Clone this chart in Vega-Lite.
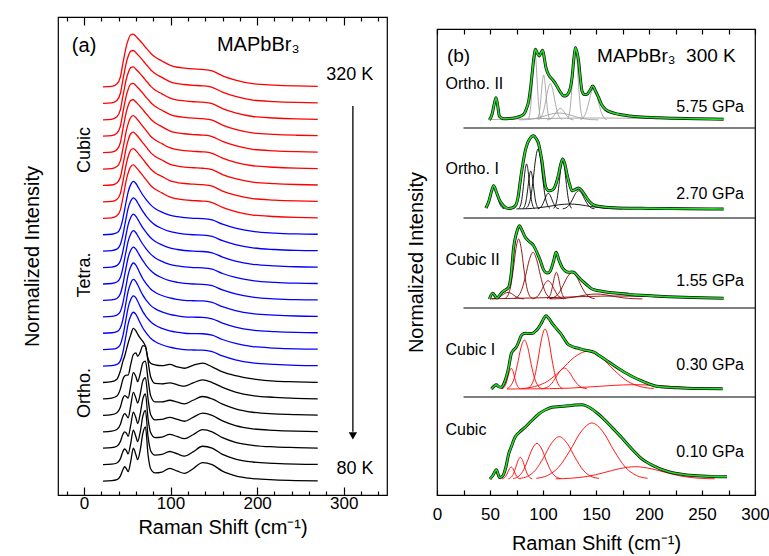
{
"$schema":"https://vega.github.io/schema/vega-lite/v6.json",
"padding":{"left":21,"top":14,"right":5,"bottom":0},
"spacing":17,
"resolve":{"scale":{"color":"independent"}},
"datasets":{
"a":[
{"x":22,"k0":0,"k1":1,"k2":2,"k3":3,"k4":4,"k5":5,"k6":6,"k7":7,"k8":8,"k9":9,"k10":10,"k11":11,"k12":12,"k13":13,"k14":14,"k15":15,"k16":16,"k17":17,"k18":18,"k19":19,"k20":20,"k21":21,"k22":22,"k23":23,"k24":24},
{"x":32,"k0":0.02,"k1":1.03,"k2":2.03,"k3":3.04,"k4":4.04,"k5":5.05,"k6":6.05,"k7":7.03,"k8":8.03,"k9":9.03,"k10":10.03,"k11":11.03,"k12":12.03,"k13":13.03,"k14":14.03,"k15":15.03,"k16":16.03,"k17":17.03,"k18":18.03,"k19":19.03,"k20":20.03,"k21":21.03,"k22":22.03,"k23":23.03,"k24":24.03},
{"x":38,"k0":0.08,"k1":1.1,"k2":2.12,"k3":3.14,"k4":4.16,"k5":5.18,"k6":6.2,"k7":7.1,"k8":8.1,"k9":9.1,"k10":10.1,"k11":11.12,"k12":12.12,"k13":13.12,"k14":14.12,"k15":15.12,"k16":16.15,"k17":17.15,"k18":18.15,"k19":19.15,"k20":20.18,"k21":21.18,"k22":22.18,"k23":23.18,"k24":24.18},
{"x":42,"k0":0.3,"k1":1.35,"k2":2.4,"k3":3.45,"k4":4.5,"k5":5.6,"k6":6.7,"k7":7.32,"k8":8.32,"k9":9.32,"k10":10.32,"k11":11.4,"k12":12.4,"k13":13.4,"k14":14.4,"k15":15.4,"k16":16.5,"k17":17.5,"k18":18.5,"k19":19.5,"k20":20.6,"k21":21.6,"k22":22.6,"k23":23.6,"k24":24.6},
{"x":45,"k0":0.7,"k1":1.8,"k2":2.85,"k3":3.95,"k4":5.05,"k5":6.2,"k6":7.3,"k7":7.85,"k8":8.85,"k9":9.85,"k10":10.85,"k11":12,"k12":13,"k13":14,"k14":15,"k15":16,"k16":17.25,"k17":18.25,"k18":19.25,"k19":20.25,"k20":21.45,"k21":22.45,"k22":23.45,"k23":24.45,"k24":25.45},
{"x":47,"k0":0.87,"k1":1.95,"k2":3.0,"k3":4.1,"k4":5.2,"k5":6.4,"k6":7.6,"k7":8.4,"k8":9.4,"k9":10.4,"k10":11.4,"k11":12.55,"k12":13.55,"k13":14.55,"k14":15.55,"k15":16.55,"k16":17.8,"k17":18.8,"k18":19.8,"k19":20.8,"k20":22,"k21":23,"k22":24,"k23":25,"k24":26},
{"x":49,"k0":0.75,"k1":1.85,"k2":2.92,"k3":4.0,"k4":5.15,"k5":6.45,"k6":8.0,"k7":9,"k8":10,"k9":11,"k10":12,"k11":13.1,"k12":14.1,"k13":15.1,"k14":16.1,"k15":17.1,"k16":18.35,"k17":19.35,"k18":20.35,"k19":21.35,"k20":22.5,"k21":23.5,"k22":24.5,"k23":25.5,"k24":26.5},
{"x":51,"k0":0.57,"k1":1.65,"k2":2.72,"k3":3.85,"k4":5.05,"k5":6.45,"k6":8.4,"k7":9.55,"k8":10.55,"k9":11.55,"k10":12.55,"k11":13.6,"k12":14.6,"k13":15.6,"k14":16.6,"k15":17.6,"k16":18.75,"k17":19.75,"k18":20.75,"k19":21.75,"k20":22.85,"k21":23.85,"k22":24.85,"k23":25.85,"k24":26.85},
{"x":54,"k0":1.2,"k1":2.3,"k2":3.4,"k3":4.6,"k4":5.8,"k5":7.1,"k6":8.9,"k7":10.05,"k8":11.05,"k9":12.05,"k10":13.05,"k11":14.05,"k12":15.05,"k13":16.05,"k14":17.05,"k15":18.05,"k16":19.15,"k17":20.15,"k18":21.15,"k19":22.15,"k20":23.18,"k21":24.18,"k22":25.18,"k23":26.18,"k24":27.18},
{"x":57,"k0":2.0,"k1":3.1,"k2":4.2,"k3":5.4,"k4":6.6,"k5":7.7,"k6":9.3,"k7":10.28,"k8":11.28,"k9":12.28,"k10":13.28,"k11":14.25,"k12":15.25,"k13":16.25,"k14":17.25,"k15":18.25,"k16":19.25,"k17":20.25,"k18":21.25,"k19":22.25,"k20":23.22,"k21":24.22,"k22":25.22,"k23":26.22,"k24":27.22},
{"x":60,"k0":1.6,"k1":2.7,"k2":3.85,"k3":5.05,"k4":6.35,"k5":7.8,"k6":9.15,"k7":10.15,"k8":11.15,"k9":12.15,"k10":13.15,"k11":14.12,"k12":15.12,"k13":16.12,"k14":17.12,"k15":18.12,"k16":19.12,"k17":20.12,"k18":21.12,"k19":22.12,"k20":23.08,"k21":24.08,"k22":25.08,"k23":26.08,"k24":27.08},
{"x":62,"k0":1.3,"k1":2.4,"k2":3.5,"k3":4.75,"k4":6.05,"k5":7.6,"k6":8.95,"k7":9.95,"k8":10.95,"k9":11.95,"k10":12.95,"k11":13.95,"k12":14.95,"k13":15.95,"k14":16.95,"k15":17.95,"k16":19,"k17":20,"k18":21,"k19":22,"k20":22.97,"k21":23.97,"k22":24.97,"k23":25.97,"k24":26.97},
{"x":65,"k0":1.9,"k1":3.0,"k2":4.1,"k3":5.3,"k4":6.55,"k5":7.85,"k6":8.7,"k7":9.62,"k8":10.62,"k9":11.62,"k10":12.62,"k11":13.68,"k12":14.68,"k13":15.68,"k14":16.68,"k15":17.68,"k16":18.8,"k17":19.8,"k18":20.8,"k19":21.8,"k20":22.8,"k21":23.8,"k22":24.8,"k23":25.8,"k24":26.8},
{"x":68,"k0":2.9,"k1":3.95,"k2":5.0,"k3":6.1,"k4":7.2,"k5":8.25,"k6":8.5,"k7":9.32,"k8":10.32,"k9":11.32,"k10":12.32,"k11":13.42,"k12":14.42,"k13":15.42,"k14":16.42,"k15":17.42,"k16":18.6,"k17":19.6,"k18":20.6,"k19":21.6,"k20":22.62,"k21":23.62,"k22":24.62,"k23":25.62,"k24":26.62},
{"x":71,"k0":3.3,"k1":4.3,"k2":5.3,"k3":6.3,"k4":7.3,"k5":8.2,"k6":8.2,"k7":9.08,"k8":10.08,"k9":11.08,"k10":12.08,"k11":13.2,"k12":14.2,"k13":15.2,"k14":16.2,"k15":17.2,"k16":18.4,"k17":19.4,"k18":20.4,"k19":21.4,"k20":22.42,"k21":23.42,"k22":24.42,"k23":25.42,"k24":26.42},
{"x":74,"k0":1.6,"k1":2.7,"k2":3.8,"k3":5.0,"k4":6.2,"k5":7.3,"k6":7.45,"k7":8.88,"k8":9.88,"k9":10.88,"k10":11.88,"k11":13,"k12":14,"k13":15,"k14":16,"k15":17,"k16":18.2,"k17":19.2,"k18":20.2,"k19":21.2,"k20":22.24,"k21":23.24,"k22":24.24,"k23":25.24,"k24":26.24},
{"x":77,"k0":0.75,"k1":1.85,"k2":2.95,"k3":4.05,"k4":5.2,"k5":6.35,"k6":7.18,"k7":8.7,"k8":9.7,"k9":10.7,"k10":11.7,"k11":12.82,"k12":13.82,"k13":14.82,"k14":15.82,"k15":16.82,"k16":18,"k17":19,"k18":20,"k19":21,"k20":22.05,"k21":23.05,"k22":24.05,"k23":25.05,"k24":26.05},
{"x":82,"k0":0.5,"k1":1.58,"k2":2.65,"k3":3.72,"k4":4.82,"k5":5.95,"k6":7.08,"k7":8.5,"k8":9.5,"k9":10.5,"k10":11.5,"k11":12.6,"k12":13.6,"k13":14.6,"k14":15.6,"k15":16.6,"k16":17.78,"k17":18.78,"k18":19.78,"k19":20.78,"k20":21.82,"k21":22.82,"k22":23.82,"k23":24.82,"k24":25.82},
{"x":90,"k0":0.55,"k1":1.62,"k2":2.68,"k3":3.75,"k4":4.82,"k5":5.92,"k6":7.03,"k7":8.3,"k8":9.3,"k9":10.3,"k10":11.3,"k11":12.38,"k12":13.38,"k13":14.38,"k14":15.38,"k15":16.38,"k16":17.55,"k17":18.55,"k18":19.55,"k19":20.55,"k20":21.58,"k21":22.58,"k22":23.58,"k23":24.58,"k24":25.58},
{"x":99,"k0":0.77,"k1":1.8,"k2":2.84,"k3":3.88,"k4":4.92,"k5":5.98,"k6":7.1,"k7":8.15,"k8":9.15,"k9":10.15,"k10":11.15,"k11":12.2,"k12":13.2,"k13":14.2,"k14":15.2,"k15":16.2,"k16":17.3,"k17":18.3,"k18":19.3,"k19":20.3,"k20":21.33,"k21":22.33,"k22":23.33,"k23":24.33,"k24":25.33},
{"x":108,"k0":0.6,"k1":1.65,"k2":2.7,"k3":3.75,"k4":4.8,"k5":5.86,"k6":6.95,"k7":8.06,"k8":9.06,"k9":10.06,"k10":11.06,"k11":12.1,"k12":13.1,"k13":14.1,"k14":15.1,"k15":16.1,"k16":17.18,"k17":18.18,"k18":19.18,"k19":20.18,"k20":21.2,"k21":22.2,"k22":23.2,"k23":24.2,"k24":25.2},
{"x":116,"k0":0.47,"k1":1.52,"k2":2.58,"k3":3.64,"k4":4.7,"k5":5.78,"k6":6.87,"k7":8,"k8":9,"k9":10,"k10":11,"k11":12.04,"k12":13.04,"k13":14.04,"k14":15.04,"k15":16.04,"k16":17.12,"k17":18.12,"k18":19.12,"k19":20.12,"k20":21.15,"k21":22.15,"k22":23.15,"k23":24.15,"k24":25.15},
{"x":126,"k0":0.75,"k1":1.78,"k2":2.82,"k3":3.88,"k4":4.92,"k5":5.98,"k6":7.05,"k7":7.98,"k8":8.98,"k9":9.98,"k10":10.98,"k11":12,"k12":13,"k13":14,"k14":15,"k15":16,"k16":17.08,"k17":18.08,"k18":19.08,"k19":20.08,"k20":21.1,"k21":22.1,"k22":23.1,"k23":24.1,"k24":25.1},
{"x":137,"k0":1.12,"k1":2.12,"k2":3.13,"k3":4.14,"k4":5.15,"k5":6.16,"k6":7.18,"k7":7.97,"k8":8.97,"k9":9.97,"k10":10.97,"k11":11.98,"k12":12.98,"k13":13.98,"k14":14.98,"k15":15.98,"k16":17.05,"k17":18.05,"k18":19.05,"k19":20.05,"k20":21.07,"k21":22.07,"k22":23.07,"k23":24.07,"k24":25.07},
{"x":148,"k0":1.0,"k1":2.0,"k2":3.0,"k3":4.0,"k4":5.0,"k5":6.0,"k6":6.95,"k7":7.88,"k8":8.88,"k9":9.88,"k10":10.88,"k11":11.9,"k12":12.9,"k13":13.9,"k14":14.9,"k15":15.9,"k16":16.96,"k17":17.96,"k18":18.96,"k19":19.96,"k20":20.98,"k21":21.98,"k22":22.98,"k23":23.98,"k24":24.98},
{"x":160,"k0":0.6,"k1":1.62,"k2":2.64,"k3":3.66,"k4":4.68,"k5":5.7,"k6":6.65,"k7":7.62,"k8":8.62,"k9":9.62,"k10":10.62,"k11":11.64,"k12":12.64,"k13":13.64,"k14":14.64,"k15":15.64,"k16":16.66,"k17":17.66,"k18":18.66,"k19":19.66,"k20":20.68,"k21":21.68,"k22":22.68,"k23":23.68,"k24":24.68},
{"x":175,"k0":0.32,"k1":1.34,"k2":2.36,"k3":3.38,"k4":4.4,"k5":5.42,"k6":6.42,"k7":7.38,"k8":8.38,"k9":9.38,"k10":10.38,"k11":11.4,"k12":12.4,"k13":13.4,"k14":14.4,"k15":15.4,"k16":16.41,"k17":17.41,"k18":18.41,"k19":19.41,"k20":20.42,"k21":21.42,"k22":22.42,"k23":23.42,"k24":24.42},
{"x":195,"k0":0.15,"k1":1.16,"k2":2.17,"k3":3.18,"k4":4.19,"k5":5.2,"k6":6.22,"k7":7.19,"k8":8.19,"k9":9.19,"k10":10.19,"k11":11.2,"k12":12.2,"k13":13.2,"k14":14.2,"k15":15.2,"k16":16.2,"k17":17.2,"k18":18.2,"k19":19.2,"k20":20.2,"k21":21.2,"k22":22.2,"k23":23.2,"k24":24.2},
{"x":220,"k0":0.07,"k1":1.08,"k2":2.08,"k3":3.09,"k4":4.09,"k5":5.1,"k6":6.08,"k7":7.1,"k8":8.1,"k9":9.1,"k10":10.1,"k11":11.1,"k12":12.1,"k13":13.1,"k14":14.1,"k15":15.1,"k16":16.11,"k17":17.11,"k18":18.11,"k19":19.11,"k20":20.11,"k21":21.11,"k22":22.11,"k23":23.11,"k24":24.11},
{"x":245,"k0":0.03,"k1":1.03,"k2":2.04,"k3":3.04,"k4":4.04,"k5":5.04,"k6":6.04,"k7":7.05,"k8":8.05,"k9":9.05,"k10":10.05,"k11":11.05,"k12":12.05,"k13":13.05,"k14":14.05,"k15":15.05,"k16":16.06,"k17":17.06,"k18":18.06,"k19":19.06,"k20":20.06,"k21":21.06,"k22":22.06,"k23":23.06,"k24":24.06},
{"x":270,"k0":0.01,"k1":1.01,"k2":2.01,"k3":3.01,"k4":4.01,"k5":5.01,"k6":6.01,"k7":7.03,"k8":8.03,"k9":9.03,"k10":10.03,"k11":11.03,"k12":12.03,"k13":13.03,"k14":14.03,"k15":15.03,"k16":16.03,"k17":17.03,"k18":18.03,"k19":19.03,"k20":20.03,"k21":21.03,"k22":22.03,"k23":23.03,"k24":24.03}
],
"atxt1":[{"t":"(a)","x":-14,"y":26.5},{"t":"MAPbBr₃","x":153.6,"y":26.55}],
"atxt2":[{"t":"320 K","x":307,"y":24.7},{"t":"80 K","x":313,"y":0.75}],
"atxt3":[{"t":"Cubic","x":1.2,"y":20.16},{"t":"Tetra.","x":1.2,"y":12.55},{"t":"Ortho.","x":1.2,"y":5.36}],
"arrow":[{"x":310.6,"y":22.84,"y2":3.0}],
"arrowhead":[{"x":310.6,"y":2.75}],
"sep":[{"x1":25,"x2":300,"y":367},{"x1":25,"x2":300,"y":277},{"x1":25,"x2":300,"y":187},{"x1":25,"x2":300,"y":98}],
"fit":[
{"s":1,"x":50,"y":16},{"s":1,"x":53,"y":20},{"s":1,"x":56,"y":25.3},{"s":1,"x":59,"y":17.5},{"s":1,"x":62,"y":19},{"s":1,"x":65,"y":28},{"s":1,"x":67.6,"y":41},{"s":1,"x":70,"y":48},{"s":1,"x":73.6,"y":57.7},{"s":1,"x":78,"y":63},{"s":1,"x":83,"y":67.7},{"s":1,"x":89,"y":74},{"s":1,"x":96,"y":81},{"s":1,"x":102,"y":85},{"s":1,"x":108.5,"y":87.7},{"s":1,"x":116,"y":88.5},{"s":1,"x":124,"y":89.3},{"s":1,"x":130,"y":90},{"s":1,"x":137,"y":90.3},{"s":1,"x":142,"y":88.5},{"s":1,"x":146,"y":86},{"s":1,"x":151,"y":82},{"s":1,"x":155.7,"y":77.7},{"s":1,"x":162,"y":71},{"s":1,"x":168,"y":64.3},{"s":1,"x":175,"y":56.5},{"s":1,"x":181,"y":49.3},{"s":1,"x":187,"y":42.5},{"s":1,"x":193.4,"y":36},{"s":1,"x":200,"y":31.5},{"s":1,"x":206,"y":28.3},{"s":1,"x":212,"y":25.5},{"s":1,"x":218.6,"y":23.3},{"s":1,"x":226,"y":21.5},{"s":1,"x":234,"y":20.3},{"s":1,"x":242,"y":19.5},{"s":1,"x":250,"y":19},{"s":1,"x":260,"y":18.6},{"s":1,"x":273.6,"y":18.3},
{"s":2,"x":51.3,"y":106},{"s":2,"x":54,"y":109},{"s":2,"x":55.9,"y":110.3},{"s":2,"x":58,"y":108.5},{"s":2,"x":60.6,"y":107.7},{"s":2,"x":63,"y":111},{"s":2,"x":65.3,"y":117.7},{"s":2,"x":67.7,"y":128},{"s":2,"x":70,"y":141},{"s":2,"x":72.3,"y":145},{"s":2,"x":74.7,"y":147.7},{"s":2,"x":77,"y":153},{"s":2,"x":79.4,"y":159.3},{"s":2,"x":82,"y":161.5},{"s":2,"x":84,"y":161.7},{"s":2,"x":87,"y":161.5},{"s":2,"x":90.4,"y":161.7},{"s":2,"x":93,"y":164},{"s":2,"x":95,"y":166},{"s":2,"x":98,"y":171},{"s":2,"x":100.5,"y":176},{"s":2,"x":102.8,"y":179.3},{"s":2,"x":105.5,"y":176.5},{"s":2,"x":109.1,"y":171},{"s":2,"x":113,"y":166},{"s":2,"x":117,"y":161},{"s":2,"x":120,"y":156},{"s":2,"x":123.3,"y":151},{"s":2,"x":126.5,"y":149},{"s":2,"x":129.6,"y":147.7},{"s":2,"x":134,"y":146.5},{"s":2,"x":139,"y":145},{"s":2,"x":144,"y":144},{"s":2,"x":148.4,"y":142.7},{"s":2,"x":153,"y":139.5},{"s":2,"x":157.9,"y":136},{"s":2,"x":162.5,"y":132.7},{"s":2,"x":167.3,"y":129.3},{"s":2,"x":173.5,"y":125},{"s":2,"x":179.9,"y":121},{"s":2,"x":186,"y":117.5},{"s":2,"x":192.5,"y":114.3},{"s":2,"x":199,"y":111.5},{"s":2,"x":205,"y":109.3},{"s":2,"x":211,"y":108.3},{"s":2,"x":217.6,"y":107.7},{"s":2,"x":227,"y":107.2},{"s":2,"x":236.5,"y":106.8},{"s":2,"x":250,"y":106.5},{"s":2,"x":269.5,"y":106.3},
{"s":3,"x":49.4,"y":196},{"s":3,"x":52.5,"y":201.7},{"s":3,"x":56.6,"y":197},{"s":3,"x":59,"y":199.5},{"s":3,"x":61.3,"y":202.7},{"s":3,"x":64.5,"y":205},{"s":3,"x":67.6,"y":207.7},{"s":3,"x":70,"y":221},{"s":3,"x":72.3,"y":247.7},{"s":3,"x":75,"y":262},{"s":3,"x":77.7,"y":269.3},{"s":3,"x":80.5,"y":264},{"s":3,"x":83.3,"y":257.7},{"s":3,"x":87,"y":253.5},{"s":3,"x":91.2,"y":249.3},{"s":3,"x":94.5,"y":242},{"s":3,"x":97.5,"y":234.3},{"s":3,"x":100,"y":226.5},{"s":3,"x":102.2,"y":222.7},{"s":3,"x":104.5,"y":222},{"s":3,"x":107,"y":224.3},{"s":3,"x":110,"y":234},{"s":3,"x":112.3,"y":242.7},{"s":3,"x":115,"y":235},{"s":3,"x":118,"y":227.7},{"s":3,"x":121,"y":224},{"s":3,"x":124.2,"y":222.7},{"s":3,"x":127,"y":223},{"s":3,"x":129,"y":222.7},{"s":3,"x":133,"y":218.5},{"s":3,"x":136.8,"y":214.3},{"s":3,"x":141.5,"y":210},{"s":3,"x":146.3,"y":206},{"s":3,"x":151,"y":204.5},{"s":3,"x":155.7,"y":203.7},{"s":3,"x":163,"y":202.5},{"s":3,"x":171.4,"y":201.7},{"s":3,"x":182,"y":200.6},{"s":3,"x":193.4,"y":199.7},{"s":3,"x":205,"y":199},{"s":3,"x":218.6,"y":198.3},{"s":3,"x":240,"y":197.5},{"s":3,"x":270.4,"y":196.7},
{"s":4,"x":46.2,"y":287},{"s":4,"x":49,"y":294},{"s":4,"x":51,"y":302},{"s":4,"x":53.4,"y":309.3},{"s":4,"x":56,"y":303},{"s":4,"x":58.5,"y":296},{"s":4,"x":61.3,"y":291},{"s":4,"x":64,"y":288},{"s":4,"x":67.6,"y":286.5},{"s":4,"x":70.5,"y":287},{"s":4,"x":73.9,"y":289.3},{"s":4,"x":76.5,"y":298},{"s":4,"x":78.6,"y":314.3},{"s":4,"x":81,"y":331},{"s":4,"x":83.3,"y":344.3},{"s":4,"x":85.5,"y":352},{"s":4,"x":87.4,"y":356},{"s":4,"x":89.3,"y":358.5},{"s":4,"x":91.2,"y":359.3},{"s":4,"x":93.5,"y":356.5},{"s":4,"x":95.9,"y":351},{"s":4,"x":97.5,"y":343},{"s":4,"x":99,"y":334.3},{"s":4,"x":100.6,"y":321},{"s":4,"x":102.2,"y":309.3},{"s":4,"x":103.8,"y":305.5},{"s":4,"x":105.3,"y":304.3},{"s":4,"x":107.5,"y":304.5},{"s":4,"x":110,"y":306},{"s":4,"x":112.5,"y":312},{"s":4,"x":114.8,"y":321},{"s":4,"x":116.8,"y":331},{"s":4,"x":118.6,"y":336},{"s":4,"x":120.6,"y":331},{"s":4,"x":122.6,"y":321},{"s":4,"x":125,"y":311},{"s":4,"x":127.4,"y":304.3},{"s":4,"x":130.5,"y":305.5},{"s":4,"x":133.6,"y":307},{"s":4,"x":136.8,"y":304},{"s":4,"x":139.9,"y":299.3},{"s":4,"x":143,"y":294.5},{"s":4,"x":146.2,"y":291},{"s":4,"x":150,"y":289.3},{"s":4,"x":155.7,"y":288.3},{"s":4,"x":163,"y":287.5},{"s":4,"x":171.4,"y":287},{"s":4,"x":200,"y":286.6},{"s":4,"x":235,"y":286.3},{"s":4,"x":270.4,"y":286},
{"s":5,"x":49.4,"y":375},{"s":5,"x":52,"y":381},{"s":5,"x":54,"y":391},{"s":5,"x":55.7,"y":397.3},{"s":5,"x":57.3,"y":389},{"s":5,"x":58.8,"y":379},{"s":5,"x":60.8,"y":377},{"s":5,"x":62.9,"y":376.3},{"s":5,"x":68,"y":376.5},{"s":5,"x":73.9,"y":377.3},{"s":5,"x":78,"y":378.5},{"s":5,"x":81.8,"y":380.7},{"s":5,"x":84.3,"y":386},{"s":5,"x":86.5,"y":394},{"s":5,"x":88.5,"y":409},{"s":5,"x":90.3,"y":427},{"s":5,"x":91.6,"y":439},{"s":5,"x":92.8,"y":445.7},{"s":5,"x":94.5,"y":442},{"s":5,"x":96.5,"y":439},{"s":5,"x":98.2,"y":442.5},{"s":5,"x":99.7,"y":444.7},{"s":5,"x":101.2,"y":437},{"s":5,"x":102.8,"y":427.3},{"s":5,"x":104.5,"y":422},{"s":5,"x":106,"y":419},{"s":5,"x":108,"y":416.5},{"s":5,"x":110,"y":414},{"s":5,"x":112.5,"y":410},{"s":5,"x":114.8,"y":405.7},{"s":5,"x":117,"y":402},{"s":5,"x":119.5,"y":399},{"s":5,"x":122,"y":399.5},{"s":5,"x":124.2,"y":402.3},{"s":5,"x":126,"y":408},{"s":5,"x":127.4,"y":417.3},{"s":5,"x":129,"y":435},{"s":5,"x":130.5,"y":447.3},{"s":5,"x":132,"y":443},{"s":5,"x":133.6,"y":434},{"s":5,"x":135.2,"y":417},{"s":5,"x":136.8,"y":404},{"s":5,"x":139,"y":400.5},{"s":5,"x":141.5,"y":400.7},{"s":5,"x":144.5,"y":405},{"s":5,"x":146.9,"y":409},{"s":5,"x":149.5,"y":404},{"s":5,"x":152.5,"y":397.3},{"s":5,"x":155.5,"y":390},{"s":5,"x":158.8,"y":385.7},{"s":5,"x":165,"y":382.5},{"s":5,"x":171.4,"y":380.7},{"s":5,"x":182,"y":379},{"s":5,"x":193.4,"y":378},{"s":5,"x":210,"y":377.2},{"s":5,"x":224.9,"y":376.7},{"s":5,"x":245,"y":376.2},{"s":5,"x":270.4,"y":375.7}
],
"comp":[
{"i":"1A","s":1,"x":50,"y":16.1},{"i":"1A","s":1,"x":51,"y":16.5},{"i":"1A","s":1,"x":52,"y":17.7},{"i":"1A","s":1,"x":53,"y":20},{"i":"1A","s":1,"x":54,"y":22.7},{"i":"1A","s":1,"x":55,"y":24},{"i":"1A","s":1,"x":56,"y":22.7},{"i":"1A","s":1,"x":57,"y":20},{"i":"1A","s":1,"x":58,"y":17.7},{"i":"1A","s":1,"x":59,"y":16.5},{"i":"1A","s":1,"x":60,"y":16.1},
{"i":"1B","s":1,"x":61.3,"y":16.2},{"i":"1B","s":1,"x":63,"y":16.8},{"i":"1B","s":1,"x":64.8,"y":18.5},{"i":"1B","s":1,"x":66.5,"y":22},{"i":"1B","s":1,"x":68.3,"y":26.1},{"i":"1B","s":1,"x":70,"y":28},{"i":"1B","s":1,"x":71.8,"y":26.1},{"i":"1B","s":1,"x":73.5,"y":22},{"i":"1B","s":1,"x":75.3,"y":18.5},{"i":"1B","s":1,"x":77,"y":16.8},{"i":"1B","s":1,"x":78.8,"y":16.2},
{"i":"1C","s":1,"x":67.4,"y":16.3},{"i":"1C","s":1,"x":69.6,"y":17.4},{"i":"1C","s":1,"x":71.9,"y":20.6},{"i":"1C","s":1,"x":74.1,"y":26.9},{"i":"1C","s":1,"x":76.4,"y":34.2},{"i":"1C","s":1,"x":78.6,"y":37.7},{"i":"1C","s":1,"x":80.9,"y":34.2},{"i":"1C","s":1,"x":83.1,"y":26.9},{"i":"1C","s":1,"x":85.4,"y":20.6},{"i":"1C","s":1,"x":87.6,"y":17.4},{"i":"1C","s":1,"x":89.9,"y":16.3},
{"i":"1D","s":1,"x":71.8,"y":16.5},{"i":"1D","s":1,"x":76.3,"y":18.2},{"i":"1D","s":1,"x":80.8,"y":23.5},{"i":"1D","s":1,"x":85.3,"y":33.9},{"i":"1D","s":1,"x":89.8,"y":46},{"i":"1D","s":1,"x":94.3,"y":51.7},{"i":"1D","s":1,"x":98.8,"y":46},{"i":"1D","s":1,"x":103.3,"y":33.9},{"i":"1D","s":1,"x":107.8,"y":23.5},{"i":"1D","s":1,"x":112.3,"y":18.2},{"i":"1D","s":1,"x":116.8,"y":16.5},
{"i":"1E","s":1,"x":77.9,"y":16.6},{"i":"1E","s":1,"x":85.4,"y":18.6},{"i":"1E","s":1,"x":92.9,"y":24.9},{"i":"1E","s":1,"x":100.4,"y":37.2},{"i":"1E","s":1,"x":107.9,"y":51.5},{"i":"1E","s":1,"x":115.4,"y":58.3},{"i":"1E","s":1,"x":122.9,"y":51.5},{"i":"1E","s":1,"x":130.4,"y":37.2},{"i":"1E","s":1,"x":137.9,"y":24.9},{"i":"1E","s":1,"x":145.4,"y":18.6},{"i":"1E","s":1,"x":152.9,"y":16.6},
{"i":"1F","s":1,"x":93.7,"y":16.7},{"i":"1F","s":1,"x":104.2,"y":19.5},{"i":"1F","s":1,"x":114.7,"y":27.8},{"i":"1F","s":1,"x":125.2,"y":44},{"i":"1F","s":1,"x":135.7,"y":63},{"i":"1F","s":1,"x":146.2,"y":72},{"i":"1F","s":1,"x":156.7,"y":63},{"i":"1F","s":1,"x":167.2,"y":44},{"i":"1F","s":1,"x":177.7,"y":27.8},{"i":"1F","s":1,"x":188.2,"y":19.5},{"i":"1F","s":1,"x":198.7,"y":16.7},
{"i":"1G","s":1,"x":112,"y":16.2},{"i":"1G","s":1,"x":127,"y":16.8},{"i":"1G","s":1,"x":142,"y":18.6},{"i":"1G","s":1,"x":157,"y":22.2},{"i":"1G","s":1,"x":172,"y":26.3},{"i":"1G","s":1,"x":187,"y":28.3},{"i":"1G","s":1,"x":202,"y":26.3},{"i":"1G","s":1,"x":217,"y":22.2},{"i":"1G","s":1,"x":232,"y":18.6},{"i":"1G","s":1,"x":247,"y":16.8},{"i":"1G","s":1,"x":262,"y":16.2},
{"i":"2A","s":2,"x":61.3,"y":106.3},{"i":"2A","s":2,"x":63,"y":107.3},{"i":"2A","s":2,"x":64.8,"y":110.3},{"i":"2A","s":2,"x":66.5,"y":116.4},{"i":"2A","s":2,"x":68.3,"y":123.4},{"i":"2A","s":2,"x":70,"y":126.7},{"i":"2A","s":2,"x":71.8,"y":123.4},{"i":"2A","s":2,"x":73.5,"y":116.4},{"i":"2A","s":2,"x":75.3,"y":110.3},{"i":"2A","s":2,"x":77,"y":107.3},{"i":"2A","s":2,"x":78.8,"y":106.3},
{"i":"2B","s":2,"x":66.2,"y":106.6},{"i":"2B","s":2,"x":69.4,"y":109.1},{"i":"2B","s":2,"x":72.7,"y":116.3},{"i":"2B","s":2,"x":75.9,"y":130.5},{"i":"2B","s":2,"x":79.2,"y":147.2},{"i":"2B","s":2,"x":82.4,"y":155},{"i":"2B","s":2,"x":85.7,"y":147.2},{"i":"2B","s":2,"x":88.9,"y":130.5},{"i":"2B","s":2,"x":92.2,"y":116.3},{"i":"2B","s":2,"x":95.4,"y":109.1},{"i":"2B","s":2,"x":98.7,"y":106.6},
{"i":"2C","s":2,"x":85.7,"y":106.8},{"i":"2C","s":2,"x":88.9,"y":109.8},{"i":"2C","s":2,"x":92.2,"y":118.6},{"i":"2C","s":2,"x":95.4,"y":136},{"i":"2C","s":2,"x":98.7,"y":156.4},{"i":"2C","s":2,"x":101.9,"y":166},{"i":"2C","s":2,"x":105.2,"y":156.4},{"i":"2C","s":2,"x":108.4,"y":136},{"i":"2C","s":2,"x":111.7,"y":118.6},{"i":"2C","s":2,"x":114.9,"y":109.8},{"i":"2C","s":2,"x":118.2,"y":106.8},
{"i":"2D","s":2,"x":98.8,"y":106.3},{"i":"2D","s":2,"x":103,"y":107.3},{"i":"2D","s":2,"x":107.3,"y":110.4},{"i":"2D","s":2,"x":111.5,"y":116.5},{"i":"2D","s":2,"x":115.8,"y":123.6},{"i":"2D","s":2,"x":120,"y":127},{"i":"2D","s":2,"x":124.3,"y":123.6},{"i":"2D","s":2,"x":128.5,"y":116.5},{"i":"2D","s":2,"x":132.8,"y":110.4},{"i":"2D","s":2,"x":137,"y":107.3},{"i":"2D","s":2,"x":141.3,"y":106.3},
{"i":"2E","s":2,"x":79.5,"y":106.5},{"i":"2E","s":2,"x":92,"y":108.4},{"i":"2E","s":2,"x":104.5,"y":113.9},{"i":"2E","s":2,"x":117,"y":124.9},{"i":"2E","s":2,"x":129.5,"y":137.7},{"i":"2E","s":2,"x":142,"y":143.7},{"i":"2E","s":2,"x":154.5,"y":137.7},{"i":"2E","s":2,"x":167,"y":124.9},{"i":"2E","s":2,"x":179.5,"y":113.9},{"i":"2E","s":2,"x":192,"y":108.4},{"i":"2E","s":2,"x":204.5,"y":106.5},
{"i":"2F","s":2,"x":66,"y":106},{"i":"2F","s":2,"x":86,"y":106.1},{"i":"2F","s":2,"x":106,"y":106.3},{"i":"2F","s":2,"x":126,"y":106.9},{"i":"2F","s":2,"x":146,"y":108.2},{"i":"2F","s":2,"x":166,"y":109.6},{"i":"2F","s":2,"x":186,"y":110.3},{"i":"2F","s":2,"x":206,"y":109.6},{"i":"2F","s":2,"x":226,"y":108.2},{"i":"2F","s":2,"x":237,"y":107.4},
{"i":"3A","s":3,"x":52,"y":196.1},{"i":"3A","s":3,"x":55,"y":196.4},{"i":"3A","s":3,"x":58,"y":197.4},{"i":"3A","s":3,"x":61,"y":199.4},{"i":"3A","s":3,"x":64,"y":201.6},{"i":"3A","s":3,"x":67,"y":202.7},{"i":"3A","s":3,"x":70,"y":201.6},{"i":"3A","s":3,"x":73,"y":199.4},{"i":"3A","s":3,"x":76,"y":197.4},{"i":"3A","s":3,"x":79,"y":196.4},{"i":"3A","s":3,"x":82,"y":196.1},
{"i":"3B","s":3,"x":64.5,"y":196.8},{"i":"3B","s":3,"x":67,"y":199.8},{"i":"3B","s":3,"x":69.5,"y":208.6},{"i":"3B","s":3,"x":72,"y":226},{"i":"3B","s":3,"x":74.5,"y":246.4},{"i":"3B","s":3,"x":77,"y":256},{"i":"3B","s":3,"x":79.5,"y":246.4},{"i":"3B","s":3,"x":82,"y":226},{"i":"3B","s":3,"x":84.5,"y":208.6},{"i":"3B","s":3,"x":87,"y":199.8},{"i":"3B","s":3,"x":89.5,"y":196.8},
{"i":"3C","s":3,"x":73.1,"y":196.6},{"i":"3C","s":3,"x":76.6,"y":198.9},{"i":"3C","s":3,"x":80.1,"y":205.8},{"i":"3C","s":3,"x":83.6,"y":219.4},{"i":"3C","s":3,"x":87.1,"y":235.2},{"i":"3C","s":3,"x":90.6,"y":242.7},{"i":"3C","s":3,"x":94.1,"y":235.2},{"i":"3C","s":3,"x":97.6,"y":219.4},{"i":"3C","s":3,"x":101.1,"y":205.8},{"i":"3C","s":3,"x":104.6,"y":198.9},{"i":"3C","s":3,"x":108.1,"y":196.6},
{"i":"3D","s":3,"x":89.8,"y":196.2},{"i":"3D","s":3,"x":92.8,"y":197.1},{"i":"3D","s":3,"x":95.8,"y":199.8},{"i":"3D","s":3,"x":98.8,"y":205.2},{"i":"3D","s":3,"x":101.8,"y":211.4},{"i":"3D","s":3,"x":104.8,"y":214.3},{"i":"3D","s":3,"x":107.8,"y":211.4},{"i":"3D","s":3,"x":110.8,"y":205.2},{"i":"3D","s":3,"x":113.8,"y":199.8},{"i":"3D","s":3,"x":116.8,"y":197.1},{"i":"3D","s":3,"x":119.8,"y":196.2},
{"i":"3E","s":3,"x":103.9,"y":196.4},{"i":"3E","s":3,"x":105.6,"y":197.7},{"i":"3E","s":3,"x":107.4,"y":201.6},{"i":"3E","s":3,"x":109.1,"y":209.4},{"i":"3E","s":3,"x":110.9,"y":218.4},{"i":"3E","s":3,"x":112.6,"y":222.7},{"i":"3E","s":3,"x":114.4,"y":218.4},{"i":"3E","s":3,"x":116.1,"y":209.4},{"i":"3E","s":3,"x":117.9,"y":201.6},{"i":"3E","s":3,"x":119.6,"y":197.7},{"i":"3E","s":3,"x":121.4,"y":196.4},
{"i":"3F","s":3,"x":106.2,"y":196.4},{"i":"3F","s":3,"x":110.4,"y":197.7},{"i":"3F","s":3,"x":114.7,"y":201.6},{"i":"3F","s":3,"x":118.9,"y":209.4},{"i":"3F","s":3,"x":123.2,"y":218.4},{"i":"3F","s":3,"x":127.4,"y":222.7},{"i":"3F","s":3,"x":131.7,"y":218.4},{"i":"3F","s":3,"x":135.9,"y":209.4},{"i":"3F","s":3,"x":140.2,"y":201.6},{"i":"3F","s":3,"x":144.4,"y":197.7},{"i":"3F","s":3,"x":148.7,"y":196.4},
{"i":"3G","s":3,"x":106.3,"y":196.1},{"i":"3G","s":3,"x":115,"y":196.3},{"i":"3G","s":3,"x":123.8,"y":197.1},{"i":"3G","s":3,"x":132.5,"y":198.5},{"i":"3G","s":3,"x":141.3,"y":200.2},{"i":"3G","s":3,"x":150,"y":201},{"i":"3G","s":3,"x":158.8,"y":200.2},{"i":"3G","s":3,"x":167.5,"y":198.5},{"i":"3G","s":3,"x":176.3,"y":197.1},{"i":"3G","s":3,"x":185,"y":196.3},{"i":"3G","s":3,"x":193.8,"y":196.1},
{"i":"3H","s":3,"x":50,"y":196.2},{"i":"3H","s":3,"x":80,"y":196.8},{"i":"3H","s":3,"x":110,"y":197.5},{"i":"3H","s":3,"x":140,"y":198.5},{"i":"3H","s":3,"x":170,"y":199},{"i":"3H","s":3,"x":200,"y":198.5},{"i":"3H","s":3,"x":230,"y":197.5},{"i":"3H","s":3,"x":270,"y":196.5},
{"i":"4A","s":4,"x":45.4,"y":287.4},{"i":"4A","s":4,"x":47.4,"y":290.6},{"i":"4A","s":4,"x":49.4,"y":296.9},{"i":"4A","s":4,"x":51.4,"y":304.2},{"i":"4A","s":4,"x":53.4,"y":307.7},{"i":"4A","s":4,"x":55.4,"y":304.2},{"i":"4A","s":4,"x":57.4,"y":296.9},{"i":"4A","s":4,"x":59.4,"y":290.6},{"i":"4A","s":4,"x":61.4,"y":287.4},{"i":"4A","s":4,"x":63.4,"y":286.3},
{"i":"4B","s":4,"x":77,"y":286.6},{"i":"4B","s":4,"x":78.5,"y":288.8},{"i":"4B","s":4,"x":80,"y":295.5},{"i":"4B","s":4,"x":81.5,"y":308.5},{"i":"4B","s":4,"x":83,"y":323.8},{"i":"4B","s":4,"x":84.5,"y":331},{"i":"4B","s":4,"x":86,"y":323.8},{"i":"4B","s":4,"x":87.5,"y":308.5},{"i":"4B","s":4,"x":89,"y":295.5},{"i":"4B","s":4,"x":90.5,"y":288.8},{"i":"4B","s":4,"x":92,"y":286.6},
{"i":"4C","s":4,"x":81,"y":286.5},{"i":"4C","s":4,"x":82.5,"y":288.4},{"i":"4C","s":4,"x":84,"y":294},{"i":"4C","s":4,"x":85.5,"y":305},{"i":"4C","s":4,"x":87,"y":317.9},{"i":"4C","s":4,"x":88.5,"y":324},{"i":"4C","s":4,"x":90,"y":317.9},{"i":"4C","s":4,"x":91.5,"y":305},{"i":"4C","s":4,"x":93,"y":294},{"i":"4C","s":4,"x":94.5,"y":288.4},{"i":"4C","s":4,"x":96,"y":286.5},
{"i":"4D","s":4,"x":84.05,"y":286.8},{"i":"4D","s":4,"x":86.3,"y":289.8},{"i":"4D","s":4,"x":88.55,"y":298.6},{"i":"4D","s":4,"x":90.8,"y":316},{"i":"4D","s":4,"x":93.05,"y":336.4},{"i":"4D","s":4,"x":95.3,"y":346},{"i":"4D","s":4,"x":97.55,"y":336.4},{"i":"4D","s":4,"x":99.8,"y":316},{"i":"4D","s":4,"x":102.05,"y":298.6},{"i":"4D","s":4,"x":104.3,"y":289.8},{"i":"4D","s":4,"x":106.55,"y":286.8},
{"i":"4E","s":4,"x":95,"y":286.2},{"i":"4E","s":4,"x":97,"y":287},{"i":"4E","s":4,"x":99,"y":289.3},{"i":"4E","s":4,"x":101,"y":293.9},{"i":"4E","s":4,"x":103,"y":299.2},{"i":"4E","s":4,"x":105,"y":301.7},{"i":"4E","s":4,"x":107,"y":299.2},{"i":"4E","s":4,"x":109,"y":293.9},{"i":"4E","s":4,"x":111,"y":289.3},{"i":"4E","s":4,"x":113,"y":287},{"i":"4E","s":4,"x":115,"y":286.2},
{"i":"4F","s":4,"x":109.85,"y":286.6},{"i":"4F","s":4,"x":111.6,"y":289.1},{"i":"4F","s":4,"x":113.35,"y":296.3},{"i":"4F","s":4,"x":115.1,"y":310.5},{"i":"4F","s":4,"x":116.85,"y":327.2},{"i":"4F","s":4,"x":118.6,"y":335},{"i":"4F","s":4,"x":120.35,"y":327.2},{"i":"4F","s":4,"x":122.1,"y":310.5},{"i":"4F","s":4,"x":123.85,"y":296.3},{"i":"4F","s":4,"x":125.6,"y":289.1},{"i":"4F","s":4,"x":127.35,"y":286.6},
{"i":"4G","s":4,"x":118.6,"y":286.2},{"i":"4G","s":4,"x":121.6,"y":287.1},{"i":"4G","s":4,"x":124.6,"y":289.8},{"i":"4G","s":4,"x":127.6,"y":295.2},{"i":"4G","s":4,"x":130.6,"y":301.4},{"i":"4G","s":4,"x":133.6,"y":304.3},{"i":"4G","s":4,"x":136.6,"y":301.4},{"i":"4G","s":4,"x":139.6,"y":295.2},{"i":"4G","s":4,"x":142.6,"y":289.8},{"i":"4G","s":4,"x":145.6,"y":287.1},{"i":"4G","s":4,"x":148.6,"y":286.2},
{"i":"4H","s":4,"x":75,"y":286.1},{"i":"4H","s":4,"x":85,"y":286.3},{"i":"4H","s":4,"x":95,"y":287.1},{"i":"4H","s":4,"x":105,"y":288.5},{"i":"4H","s":4,"x":115,"y":290.2},{"i":"4H","s":4,"x":125,"y":291},{"i":"4H","s":4,"x":135,"y":290.2},{"i":"4H","s":4,"x":145,"y":288.5},{"i":"4H","s":4,"x":155,"y":287.1},{"i":"4H","s":4,"x":165,"y":286.3},{"i":"4H","s":4,"x":175,"y":286.1},
{"i":"5A","s":5,"x":49.45,"y":375.3},{"i":"5A","s":5,"x":50.7,"y":376.3},{"i":"5A","s":5,"x":51.95,"y":379.3},{"i":"5A","s":5,"x":53.2,"y":385.4},{"i":"5A","s":5,"x":54.45,"y":392.4},{"i":"5A","s":5,"x":55.7,"y":395.7},{"i":"5A","s":5,"x":56.95,"y":392.4},{"i":"5A","s":5,"x":58.2,"y":385.4},{"i":"5A","s":5,"x":59.45,"y":379.3},{"i":"5A","s":5,"x":60.7,"y":376.3},{"i":"5A","s":5,"x":61.95,"y":375.3},
{"i":"5B","s":5,"x":85.95,"y":375.9},{"i":"5B","s":5,"x":87.2,"y":379.3},{"i":"5B","s":5,"x":88.45,"y":389.5},{"i":"5B","s":5,"x":89.7,"y":409.5},{"i":"5B","s":5,"x":90.95,"y":433},{"i":"5B","s":5,"x":92.2,"y":444},{"i":"5B","s":5,"x":93.45,"y":433},{"i":"5B","s":5,"x":94.7,"y":409.5},{"i":"5B","s":5,"x":95.95,"y":389.5},{"i":"5B","s":5,"x":97.2,"y":379.3},{"i":"5B","s":5,"x":98.45,"y":375.9},
{"i":"5C","s":5,"x":94.35,"y":375.6},{"i":"5C","s":5,"x":95.6,"y":377.8},{"i":"5C","s":5,"x":96.85,"y":384.5},{"i":"5C","s":5,"x":98.1,"y":397.5},{"i":"5C","s":5,"x":99.35,"y":412.8},{"i":"5C","s":5,"x":100.6,"y":420},{"i":"5C","s":5,"x":101.85,"y":412.8},{"i":"5C","s":5,"x":103.1,"y":397.5},{"i":"5C","s":5,"x":104.35,"y":384.5},{"i":"5C","s":5,"x":105.6,"y":377.8},{"i":"5C","s":5,"x":106.85,"y":375.6},
{"i":"5D","s":5,"x":95.65,"y":375.5},{"i":"5D","s":5,"x":97.9,"y":377.3},{"i":"5D","s":5,"x":100.15,"y":382.6},{"i":"5D","s":5,"x":102.4,"y":393.2},{"i":"5D","s":5,"x":104.65,"y":405.5},{"i":"5D","s":5,"x":106.9,"y":411.3},{"i":"5D","s":5,"x":109.15,"y":405.5},{"i":"5D","s":5,"x":111.4,"y":393.2},{"i":"5D","s":5,"x":113.65,"y":382.6},{"i":"5D","s":5,"x":115.9,"y":377.3},{"i":"5D","s":5,"x":118.15,"y":375.5},
{"i":"5E","s":5,"x":103.8,"y":375.2},{"i":"5E","s":5,"x":106.3,"y":375.7},{"i":"5E","s":5,"x":108.8,"y":377.5},{"i":"5E","s":5,"x":111.3,"y":380.9},{"i":"5E","s":5,"x":113.8,"y":384.8},{"i":"5E","s":5,"x":116.3,"y":386.7},{"i":"5E","s":5,"x":118.8,"y":384.8},{"i":"5E","s":5,"x":121.3,"y":380.9},{"i":"5E","s":5,"x":123.8,"y":377.5},{"i":"5E","s":5,"x":126.3,"y":375.7},{"i":"5E","s":5,"x":128.8,"y":375.2},
{"i":"5F","s":5,"x":123,"y":375.9},{"i":"5F","s":5,"x":124.5,"y":379.5},{"i":"5F","s":5,"x":126,"y":390.2},{"i":"5F","s":5,"x":127.5,"y":411.2},{"i":"5F","s":5,"x":129,"y":435.7},{"i":"5F","s":5,"x":130.5,"y":447.3},{"i":"5F","s":5,"x":132,"y":435.7},{"i":"5F","s":5,"x":133.5,"y":411.2},{"i":"5F","s":5,"x":135,"y":390.2},{"i":"5F","s":5,"x":136.5,"y":379.5},{"i":"5F","s":5,"x":138,"y":375.9},
{"i":"5G","s":5,"x":135.3,"y":375.4},{"i":"5G","s":5,"x":137.8,"y":377},{"i":"5G","s":5,"x":140.3,"y":381.7},{"i":"5G","s":5,"x":142.8,"y":390.9},{"i":"5G","s":5,"x":145.3,"y":401.6},{"i":"5G","s":5,"x":147.8,"y":406.7},{"i":"5G","s":5,"x":150.3,"y":401.6},{"i":"5G","s":5,"x":152.8,"y":390.9},{"i":"5G","s":5,"x":155.3,"y":381.7},{"i":"5G","s":5,"x":157.8,"y":377},{"i":"5G","s":5,"x":160.3,"y":375.4},
{"i":"5H","s":5,"x":77.5,"y":375.1},{"i":"5H","s":5,"x":85,"y":375.4},{"i":"5H","s":5,"x":92.5,"y":376.5},{"i":"5H","s":5,"x":100,"y":378.5},{"i":"5H","s":5,"x":107.5,"y":380.9},{"i":"5H","s":5,"x":115,"y":382},{"i":"5H","s":5,"x":122.5,"y":380.9},{"i":"5H","s":5,"x":130,"y":378.5},{"i":"5H","s":5,"x":137.5,"y":376.5},{"i":"5H","s":5,"x":145,"y":375.4},{"i":"5H","s":5,"x":152.5,"y":375.1},
{"i":"5I","s":5,"x":50,"y":375.5},{"i":"5I","s":5,"x":100,"y":376.5},{"i":"5I","s":5,"x":150,"y":377},{"i":"5I","s":5,"x":200,"y":376.5},{"i":"5I","s":5,"x":250,"y":375.8},{"i":"5I","s":5,"x":270,"y":375.5}
],
"btxt1":[{"t":"(b)","x":9.4,"y":439},{"t":"MAPbBr₃\u00a0\u00a0300 K","x":151,"y":439}],
"btxt2":[{"t":"Ortho. II","x":8,"y":411.5},{"t":"Ortho. I","x":8,"y":326.5},{"t":"Cubic II","x":8,"y":235},{"t":"Cubic I","x":8,"y":145},{"t":"Cubic","x":8,"y":65}],
"btxt3":[{"t":"5.75 GPa","x":289.6,"y":388},{"t":"2.70 GPa","x":289.6,"y":301.5},{"t":"1.55 GPa","x":289.6,"y":214},{"t":"0.30 GPa","x":289.6,"y":130},{"t":"0.10 GPa","x":289.6,"y":43}],
"spacer":[{"v":0}]
},
"hconcat":[
{
"width":329,"height":478,
"layer":[
{"data":{"name":"a"},
 "transform":[{"fold":["k0","k1","k2","k3","k4","k5","k6","k7","k8","k9","k10","k11","k12","k13","k14","k15","k16","k17","k18","k19","k20","k21","k22","k23","k24"],"as":["curve","y"]}],
 "mark":{"type":"line","interpolate":"monotone","strokeWidth":1.3},
 "encoding":{
  "x":{"field":"x","type":"quantitative","scale":{"domain":[-30,350],"nice":false,"zero":false},
       "axis":{"orient":"bottom","values":[0,100,200,300],"tickSize":-8,"labelPadding":8,"labelFlush":false,"title":"Raman Shift (cm⁻¹)","titlePadding":6}},
  "y":{"field":"y","type":"quantitative","scale":{"domain":[-0.85,28.26],"nice":false,"zero":false},
       "axis":{"title":"Normalized Intensity","labels":false,"ticks":false,"minExtent":0,"titlePadding":16}},
  "color":{"field":"curve","type":"nominal","legend":null,
   "scale":{"domain":["k0","k1","k2","k3","k4","k5","k6","k7","k8","k9","k10","k11","k12","k13","k14","k15","k16","k17","k18","k19","k20","k21","k22","k23","k24"],
            "range":["#000000","#000000","#000000","#000000","#000000","#000000","#000000","#0000ff","#0000ff","#0000ff","#0000ff","#0000ff","#0000ff","#0000ff","#0000ff","#0000ff","#ff0000","#ff0000","#ff0000","#ff0000","#ff0000","#ff0000","#ff0000","#ff0000","#ff0000"]}}
 }},
{"data":{"name":"atxt1"},
 "mark":{"type":"text","align":"left","baseline":"middle","fontSize":20},
 "encoding":{
  "x":{"field":"x","type":"quantitative","scale":{"domain":[-30,350],"nice":false,"zero":false},
       "axis":{"orient":"bottom","values":[-20,20,40,60,80,120,140,160,180,220,240,260,280,320,340],"tickSize":-4,"labels":false,"title":null}},
  "y":{"field":"y","type":"quantitative","scale":{"domain":[-0.85,28.26],"nice":false,"zero":false},"axis":null},
  "text":{"field":"t"}}},
{"data":{"name":"atxt2"},
 "mark":{"type":"text","align":"center","baseline":"middle","fontSize":18},
 "encoding":{
  "x":{"field":"x","type":"quantitative","scale":{"domain":[-30,350],"nice":false,"zero":false},
       "axis":{"orient":"top","values":[0,100,200,300],"tickSize":-8,"labels":false,"title":null}},
  "y":{"field":"y","type":"quantitative","scale":{"domain":[-0.85,28.26],"nice":false,"zero":false},"axis":null},
  "text":{"field":"t"}}},
{"data":{"name":"atxt3"},
 "mark":{"type":"text","align":"center","baseline":"middle","fontSize":18,"angle":270},
 "encoding":{
  "x":{"field":"x","type":"quantitative","scale":{"domain":[-30,350],"nice":false,"zero":false},
       "axis":{"orient":"top","values":[-20,20,40,60,80,120,140,160,180,220,240,260,280,320,340],"tickSize":-4,"labels":false,"title":null}},
  "y":{"field":"y","type":"quantitative","scale":{"domain":[-0.85,28.26],"nice":false,"zero":false},"axis":null},
  "text":{"field":"t"}}},
{"data":{"name":"arrow"},
 "mark":{"type":"rule","color":"black","strokeWidth":1.3},
 "encoding":{
  "x":{"field":"x","type":"quantitative","scale":{"domain":[-30,350],"nice":false,"zero":false},"axis":null},
  "y":{"field":"y","type":"quantitative","scale":{"domain":[-0.85,28.26],"nice":false,"zero":false},"axis":null},
  "y2":{"field":"y2"}}},
{"data":{"name":"arrowhead"},
 "mark":{"type":"point","shape":"triangle-down","filled":true,"color":"black","size":70,"opacity":1},
 "encoding":{
  "x":{"field":"x","type":"quantitative","scale":{"domain":[-30,350],"nice":false,"zero":false},"axis":null},
  "y":{"field":"y","type":"quantitative","scale":{"domain":[-0.85,28.26],"nice":false,"zero":false},"axis":null}}}
],
"resolve":{"axis":{"x":"independent","y":"independent"}}
},
{
"spacing":6,
"vconcat":[
{"width":318,"height":1,"view":{"stroke":null},"data":{"name":"spacer"},"mark":{"type":"point","opacity":0},"encoding":{}},
{
"width":318,"height":466,
"layer":[
{"data":{"name":"sep"},
 "mark":{"type":"rule","color":"black","strokeWidth":1.2},
 "encoding":{
  "x":{"field":"x1","type":"quantitative","scale":{"domain":[0,300],"nice":false,"zero":false},
       "axis":{"orient":"top","values":[0,25,50,75,100,125,150,175,200,225,250,275,300],"tickSize":-5,"labels":false,"title":null}},
  "x2":{"field":"x2"},
  "y":{"field":"y","type":"quantitative","scale":{"domain":[0,466],"nice":false,"zero":false},
       "axis":{"title":"Normalized Intensity","labels":false,"ticks":false,"minExtent":0,"titlePadding":11}}}},
{"data":{"name":"comp"},
 "mark":{"type":"line","interpolate":"monotone","strokeWidth":0.9},
 "encoding":{
  "x":{"field":"x","type":"quantitative","scale":{"domain":[0,300],"nice":false,"zero":false},"axis":null},
  "y":{"field":"y","type":"quantitative","scale":{"domain":[0,466],"nice":false,"zero":false},"axis":null},
  "detail":{"field":"i"},
  "color":{"field":"s","type":"nominal","legend":null,"scale":{"domain":[1,2,3,4,5],"range":["#ff0000","#ff0000","#8b0000","#000000","#a0a0a0"]}}}},
{"data":{"name":"fit"},
 "mark":{"type":"line","interpolate":"monotone","strokeWidth":3.0,"color":"#111111"},
 "encoding":{
  "x":{"field":"x","type":"quantitative","scale":{"domain":[0,300],"nice":false,"zero":false},"axis":null},
  "y":{"field":"y","type":"quantitative","scale":{"domain":[0,466],"nice":false,"zero":false},"axis":null},
  "detail":{"field":"s"}}},
{"data":{"name":"fit"},
 "mark":{"type":"line","interpolate":"monotone","strokeWidth":1.6,"color":"#22dd22"},
 "encoding":{
  "x":{"field":"x","type":"quantitative","scale":{"domain":[0,300],"nice":false,"zero":false},
       "axis":{"orient":"bottom","values":[0,25,50,75,100,125,150,175,200,225,250,275,300],"labelExpr":"datum.value % 50 === 0 ? datum.label : ''","labelFlush":false,"tickSize":-5,"labelPadding":16,"title":"Raman Shift (cm⁻¹)","titlePadding":11}},
  "y":{"field":"y","type":"quantitative","scale":{"domain":[0,466],"nice":false,"zero":false},"axis":null},
  "detail":{"field":"s"}}},
{"data":{"name":"btxt1"},
 "mark":{"type":"text","align":"left","baseline":"middle","fontSize":19},
 "encoding":{
  "x":{"field":"x","type":"quantitative","scale":{"domain":[0,300],"nice":false,"zero":false},"axis":null},
  "y":{"field":"y","type":"quantitative","scale":{"domain":[0,466],"nice":false,"zero":false},"axis":null},
  "text":{"field":"t"}}},
{"data":{"name":"btxt2"},
 "mark":{"type":"text","align":"left","baseline":"middle","fontSize":16},
 "encoding":{
  "x":{"field":"x","type":"quantitative","scale":{"domain":[0,300],"nice":false,"zero":false},"axis":null},
  "y":{"field":"y","type":"quantitative","scale":{"domain":[0,466],"nice":false,"zero":false},"axis":null},
  "text":{"field":"t"}}},
{"data":{"name":"btxt3"},
 "mark":{"type":"text","align":"right","baseline":"middle","fontSize":16},
 "encoding":{
  "x":{"field":"x","type":"quantitative","scale":{"domain":[0,300],"nice":false,"zero":false},"axis":null},
  "y":{"field":"y","type":"quantitative","scale":{"domain":[0,466],"nice":false,"zero":false},"axis":null},
  "text":{"field":"t"}}}
],
"resolve":{"axis":{"x":"independent","y":"independent"}}
}
]
}
],
"config":{
 "font":"Liberation Sans",
 "view":{"stroke":"#000000","strokeWidth":1.2},
 "axis":{"domain":false,"grid":false,"tickColor":"#000000","tickWidth":1.2,"labelColor":"#000000","titleColor":"#000000","labelFontSize":17,"titleFontSize":20,"titleFontWeight":"normal","labelFont":"Liberation Sans","titleFont":"Liberation Sans"},
 "text":{"color":"#000000","font":"Liberation Sans"}
}
}
